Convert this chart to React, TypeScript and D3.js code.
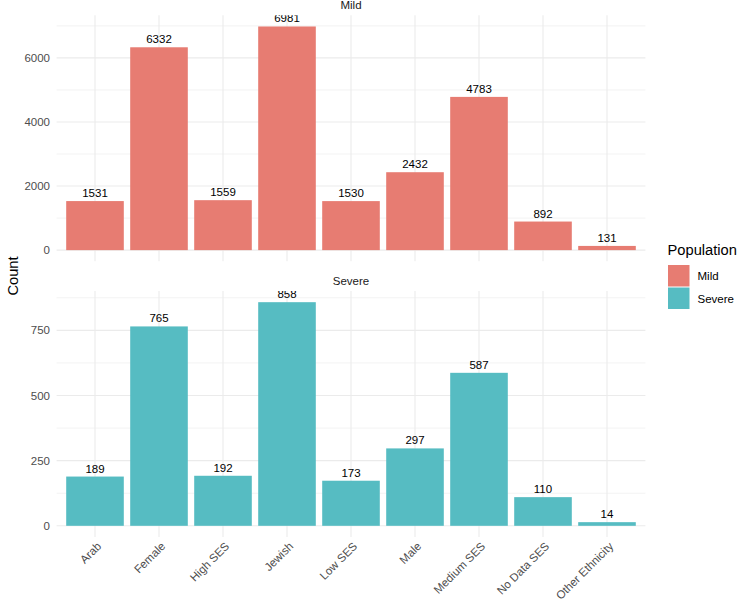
import React from 'react';
import * as d3 from 'd3';

const categories = ['Arab', 'Female', 'High SES', 'Jewish', 'Low SES', 'Male', 'Medium SES', 'No Data SES', 'Other Ethnicity'];
const mildCounts = [1531, 6332, 1559, 6981, 1530, 2432, 4783, 892, 131];
const severeCounts = [189, 765, 192, 858, 173, 297, 587, 110, 14];
const mildTicks = [0, 2000, 4000, 6000];
const mildMinor = [1000, 3000, 5000, 7000];
const severeTicks = [0, 250, 500, 750];
const severeMinor = [125, 375, 625, 875];

const W = 750;
const H = 611;
const FONT = '"Liberation Sans", Arial, sans-serif';
const GRID = '#EBEBEB';
const MILD_COLOR = '#E77C72';
const SEVERE_COLOR = '#56BCC2';

const panelLeft = 56.6;
const panelRight = 645.4;

interface PanelProps {
    id: string;
    title: string;
    values: number[];
    ticks: number[];
    minor: number[];
    color: string;
    top: number;
    bottom: number;
    showX: boolean;
}

const x = d3.scaleBand<string>()
    .domain(categories)
    .range([panelLeft, panelRight])
    .paddingInner(0.1)
    .paddingOuter(0.15);

const Panel: React.FC<PanelProps> = ({ id, title, values, ticks, minor, color, top, bottom, showX }) => {
    const max = d3.max(values) ?? 1;
    // ggplot default 5% expansion on both ends
    const y = d3.scaleLinear()
        .domain([-0.05 * max, max * 1.05])
        .range([bottom, top]);

    return (
        <g>
            <defs>
                <clipPath id={`clip-${id}`}>
                    <rect x={panelLeft} y={top} width={panelRight - panelLeft} height={bottom - top} />
                </clipPath>
            </defs>
            <text x={(panelLeft + panelRight) / 2} y={top - 6} textAnchor="middle" fontSize={11.5} fill="#1A1A1A">{title}</text>

            {minor.map(t => (
                <line key={`m${t}`} x1={panelLeft} x2={panelRight} y1={y(t)} y2={y(t)} stroke={GRID} strokeWidth={0.6} />
            ))}
            {ticks.map(t => (
                <line key={`t${t}`} x1={panelLeft} x2={panelRight} y1={y(t)} y2={y(t)} stroke={GRID} strokeWidth={1.1} />
            ))}
            {categories.map(c => {
                const cx = (x(c) ?? 0) + x.bandwidth() / 2;
                return <line key={`v${c}`} x1={cx} x2={cx} y1={top} y2={bottom} stroke={GRID} strokeWidth={1.1} />;
            })}

            {ticks.map(t => (
                <text key={`l${t}`} x={50} y={y(t)} dy="0.35em" textAnchor="end" fontSize={11.5} fill="#4D4D4D">{t}</text>
            ))}

            <g clipPath={`url(#clip-${id})`}>
                {categories.map((c, i) => (
                    <rect
                        key={c}
                        x={x(c)}
                        y={y(values[i])}
                        width={x.bandwidth()}
                        height={y(0) - y(values[i])}
                        fill={color}
                    />
                ))}
                {categories.map((c, i) => (
                    <text
                        key={`n${c}`}
                        x={(x(c) ?? 0) + x.bandwidth() / 2}
                        y={y(values[i]) - 4}
                        textAnchor="middle"
                        fontSize={11.5}
                        fill="#000"
                    >{values[i]}</text>
                ))}
            </g>

            {showX && categories.map(c => {
                const cx = (x(c) ?? 0) + x.bandwidth() / 2;
                return (
                    <text
                        key={`x${c}`}
                        transform={`translate(${cx + 7},${bottom + 10}) rotate(-45)`}
                        textAnchor="end"
                        fontSize={11.5}
                        fill="#4D4D4D"
                    >{c}</text>
                );
            })}
        </g>
    );
};

export default function App() {
    return (
        <svg
            width={W}
            height={H}
            style={{ position: 'absolute', left: 0, top: 0, background: '#fff' }}
            fontFamily={FONT}
        >
            <rect width={W} height={H} fill="#fff" />
            <Panel id="mild" title="Mild" values={mildCounts} ticks={mildTicks} minor={mildMinor} color={MILD_COLOR} top={15.3} bottom={261.3} showX={false} />
            <Panel id="severe" title="Severe" values={severeCounts} ticks={severeTicks} minor={severeMinor} color={SEVERE_COLOR} top={291} bottom={537} showX={true} />

            <text transform="translate(18,276) rotate(-90)" textAnchor="middle" fontSize={14.7} fill="#000">Count</text>
            {/* x-axis title sits just below the frame edge, as in the source */}
            <text x={(panelLeft + panelRight) / 2} y={621.5} textAnchor="middle" fontSize={14.7} fill="#000">Category</text>

            <g>
                <text x={667.5} y={255} fontSize={14.7} fill="#000">Population</text>
                <rect x={668} y={265} width={21.5} height={21.5} fill={MILD_COLOR} />
                <rect x={668} y={287.5} width={21.5} height={21.5} fill={SEVERE_COLOR} />
                <text x={697.5} y={276} dy="0.35em" fontSize={11.5} fill="#000">Mild</text>
                <text x={697.5} y={298.5} dy="0.35em" fontSize={11.5} fill="#000">Severe</text>
            </g>
        </svg>
    );
}
